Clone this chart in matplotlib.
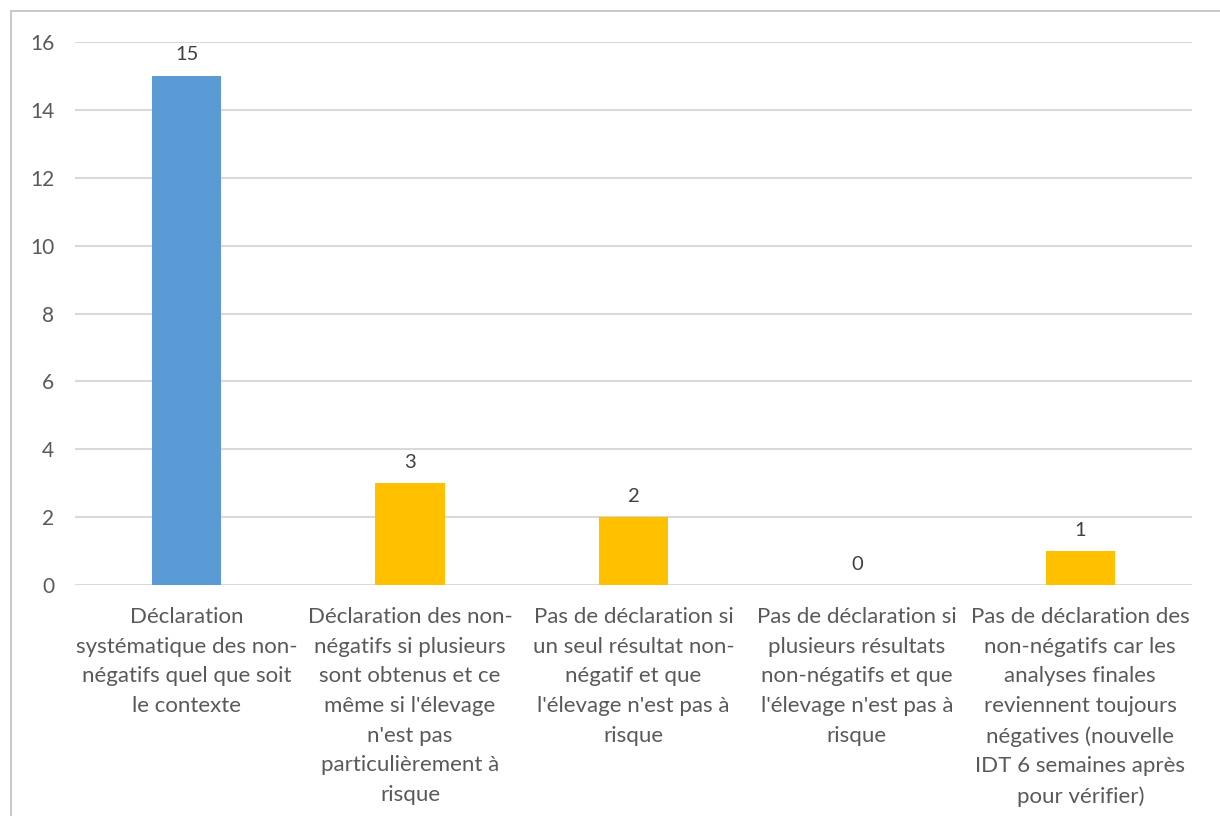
import matplotlib
matplotlib.use("Agg")
import matplotlib.pyplot as plt
from matplotlib.patches import Rectangle

categories = [
    "Déclaration\nsystématique des non-\nnégatifs quel que soit\nle contexte",
    "Déclaration des non-\nnégatifs si plusieurs\nsont obtenus et ce\nmême si l'élevage\nn'est pas\nparticulièrement à\nrisque",
    "Pas de déclaration si\nun seul résultat non-\nnégatif et que\nl'élevage n'est pas à\nrisque",
    "Pas de déclaration si\nplusieurs résultats\nnon-négatifs et que\nl'élevage n'est pas à\nrisque",
    "Pas de déclaration des\nnon-négatifs car les\nanalyses finales\nreviennent toujours\nnégatives (nouvelle\nIDT 6 semaines après\npour vérifier)",
]
values = [15, 3, 2, 0, 1]
colors = ["#5B9BD5", "#FFC000", "#FFC000", "#FFC000", "#FFC000"]
yticks = [0, 2, 4, 6, 8, 10, 12, 14, 16]

plt.rcParams['font.family'] = ['Lato', 'DejaVu Sans']
text_color = "#595959"

fig = plt.figure(figsize=(12.2, 8.16), dpi=100)
fig.patches.append(Rectangle((11/1220, -0.1), 2.0, 1.1 - 11/816, transform=fig.transFigure,
                             fill=False, edgecolor="#BFBFBF", linewidth=1.2, zorder=0))
ax = fig.add_axes([75/1220, 1 - 585/816, (1192-75)/1220, (585-42)/816])

x = list(range(len(values)))
bars = ax.bar(x, values, width=0.31, color=colors, zorder=3)
for xi, v in zip(x, values):
    ax.annotate(str(v), (xi, v), xytext=(0, 9), textcoords="offset points",
                ha="center", va="bottom", fontsize=14.5, color="#404040")

ax.set_xlim(-0.5, len(values) - 0.5)
ax.set_ylim(0, 16)
ax.set_yticks(yticks)
ax.set_yticklabels([str(t) for t in yticks], fontsize=15, color=text_color)
ax.grid(axis="y", color="#D9D9D9", linewidth=1.5, zorder=0)
ax.set_axisbelow(True)
for s in ["top", "right", "left", "bottom"]:
    ax.spines[s].set_visible(False)
ax.tick_params(axis="y", length=0, pad=15)
ax.set_xticks(x)
ax.set_xticklabels(categories, fontsize=16, color=text_color)
for lab in ax.get_xticklabels():
    lab.set_linespacing(1.6)
ax.tick_params(axis="x", length=0, pad=16)

fig.savefig("out.png", dpi=100)
